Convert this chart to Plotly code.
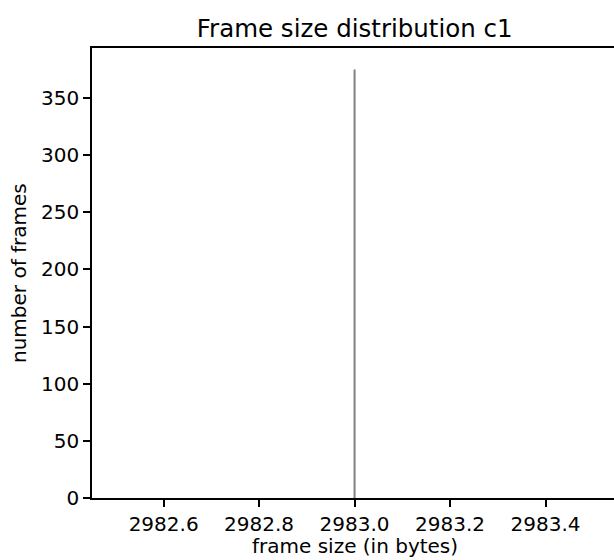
import plotly.graph_objects as go

# Data
frame_sizes = [2983.0]
frame_counts = [375]
x_tick_values = [2982.6, 2982.8, 2983.0, 2983.2, 2983.4]
x_tick_labels = ["2982.6", "2982.8", "2983.0", "2983.2", "2983.4"]
y_tick_values = [0, 50, 100, 150, 200, 250, 300, 350]

W, H = 614, 560
L, R, T, B = 92, 0, 48, 62

fig = go.Figure()
fig.add_trace(go.Bar(
    x=frame_sizes, y=frame_counts, width=0.0042,
    marker=dict(color="#808080", line=dict(width=0)),
    showlegend=False,
))

font = "DejaVu Sans, Verdana, sans-serif"
fig.update_layout(
    width=W, height=H,
    margin=dict(l=L, r=R, t=T, b=B),
    paper_bgcolor="white", plot_bgcolor="white",
    font=dict(family=font, size=20, color="#000000"),
    title=dict(text="Frame size distribution c1", font=dict(size=24.5, color="#000000"),
               x=(354.7 - L) / (W - L - R), xref="paper", xanchor="center",
               y=1 - 28 / H, yref="container", yanchor="middle"),
    xaxis=dict(
        range=[2982.45, 2983.0 + (W - 355) / 476.6],
        tickvals=x_tick_values, ticktext=x_tick_labels,
        showgrid=False, zeroline=False,
        showline=True, linecolor="#000000", linewidth=1.6, mirror=True,
        ticks="outside", ticklen=7, tickwidth=1.6, tickcolor="#000000",
        tickfont=dict(size=20, color="#000000"),
    ),
    yaxis=dict(
        range=[0, 375 * 1.05],
        tickvals=y_tick_values,
        showgrid=False, zeroline=False,
        showline=True, linecolor="#000000", linewidth=1.6, mirror=False,
        ticks="outside", ticklen=7, tickwidth=1.6, tickcolor="#000000",
        tickfont=dict(size=20, color="#000000"),
    ),
    annotations=[
        dict(text="frame size (in bytes)", xref="paper", yref="paper",
             x=(354.7 - L) / (W - L - R), y=-(546 - (H - B)) / (H - T - B),
             xanchor="center", yanchor="middle", showarrow=False,
             font=dict(size=20, color="#000000")),
        dict(text="number of frames", xref="paper", yref="paper",
             x=-(L - 19) / (W - L - R), y=0.5, textangle=-90,
             xanchor="center", yanchor="middle", showarrow=False,
             font=dict(size=20, color="#000000")),
    ],
)

fig.write_html(
    "out.html",
    config={"displayModeBar": False},
    post_script="document.body.style.margin='0px';document.body.style.overflow='hidden';",
)
